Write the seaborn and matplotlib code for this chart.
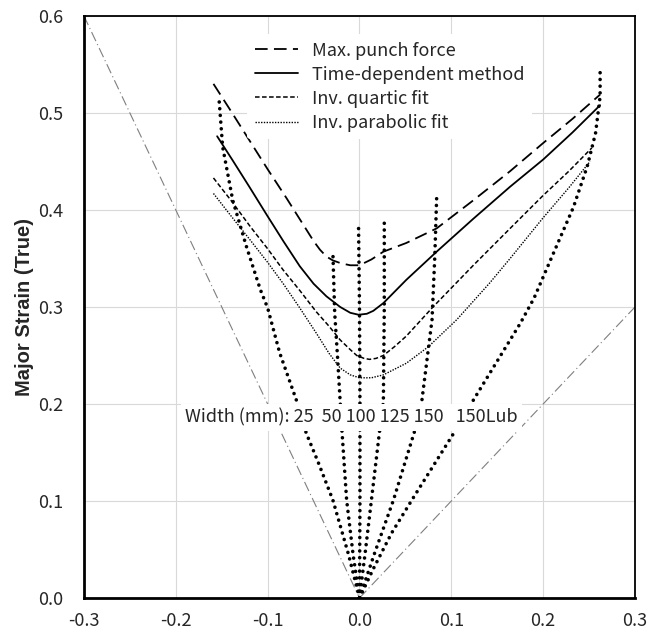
import numpy as np
import pandas as pd
import matplotlib
matplotlib.use("Agg")
import matplotlib.pyplot as plt
import seaborn as sns

# forming limit curves (minor strain, major strain)
punch_x = [-0.159, -0.140, -0.120, -0.100, -0.080, -0.060, -0.050, -0.043, -0.036, -0.029, -0.020, -0.010, 0.000, 0.013, 0.026, 0.051, 0.084, 0.124, 0.164, 0.200, 0.232, 0.262]
punch_y = [0.530, 0.502, 0.472, 0.442, 0.413, 0.383, 0.368, 0.359, 0.352, 0.348, 0.345, 0.343, 0.343, 0.349, 0.357, 0.366, 0.381, 0.410, 0.440, 0.469, 0.494, 0.519]

time_x = [-0.155, -0.138, -0.120, -0.101, -0.083, -0.065, -0.050, -0.036, -0.021, -0.010, -0.001, 0.008, 0.015, 0.026, 0.051, 0.084, 0.124, 0.164, 0.200, 0.232, 0.262]
time_y = [0.476, 0.451, 0.424, 0.395, 0.368, 0.342, 0.324, 0.311, 0.300, 0.294, 0.292, 0.293, 0.296, 0.304, 0.328, 0.357, 0.391, 0.424, 0.452, 0.480, 0.508]

quartic_x = [-0.159, -0.140, -0.119, -0.100, -0.083, -0.065, -0.047, -0.033, -0.021, -0.010, -0.003, 0.005, 0.011, 0.018, 0.026, 0.038, 0.051, 0.080, 0.124, 0.164, 0.200, 0.228, 0.253]
quartic_y = [0.433, 0.410, 0.383, 0.360, 0.338, 0.317, 0.295, 0.280, 0.266, 0.256, 0.250, 0.247, 0.246, 0.247, 0.250, 0.259, 0.270, 0.300, 0.343, 0.381, 0.415, 0.440, 0.464]

parab_x = [-0.159, -0.140, -0.119, -0.100, -0.083, -0.065, -0.047, -0.033, -0.021, -0.010, 0.000, 0.013, 0.026, 0.051, 0.075, 0.106, 0.142, 0.164, 0.200, 0.228, 0.251]
parab_y = [0.417, 0.394, 0.369, 0.346, 0.324, 0.299, 0.273, 0.252, 0.237, 0.230, 0.227, 0.227, 0.230, 0.242, 0.259, 0.287, 0.325, 0.350, 0.392, 0.423, 0.450]

# strain paths by specimen width
w25_x = [0.0, -0.012, -0.029, -0.045, -0.058, -0.068, -0.087, -0.100, -0.108, -0.123, -0.138, -0.149, -0.153]
w25_y = [0.0, 0.045, 0.101, 0.140, 0.170, 0.202, 0.253, 0.299, 0.318, 0.362, 0.410, 0.465, 0.515]

w50_x = [0.0, -0.007, -0.014, -0.019, -0.021, -0.024, -0.027, -0.029]
w50_y = [0.0, 0.045, 0.101, 0.171, 0.202, 0.250, 0.294, 0.357]

w100_x = [0.0, 0.0005, 0.0005, 0.0, -0.001]
w100_y = [0.0, 0.100, 0.200, 0.300, 0.381]

w125_x = [0.0, 0.006, 0.013, 0.022, 0.026, 0.027, 0.027]
w125_y = [0.0, 0.045, 0.101, 0.173, 0.202, 0.300, 0.390]

w150_x = [0.0, 0.016, 0.037, 0.061, 0.068, 0.079, 0.082, 0.084]
w150_y = [0.0, 0.045, 0.101, 0.175, 0.204, 0.287, 0.352, 0.412]

w150lub_x = [0.0, 0.015, 0.035, 0.059, 0.106, 0.124, 0.175, 0.190, 0.211, 0.233, 0.248, 0.257, 0.262, 0.262]
w150lub_y = [0.0, 0.030, 0.067, 0.104, 0.175, 0.204, 0.283, 0.309, 0.355, 0.403, 0.445, 0.479, 0.517, 0.546]

# reference lines: uniaxial and equi-biaxial
uni_x = [-0.3, 0.0]
uni_y = [0.6, 0.0]
biax_x = [0.0, 0.3]
biax_y = [0.0, 0.3]

flc_labels = ["Max. punch force", "Time-dependent method", "Inv. quartic fit", "Inv. parabolic fit"]
tick_vals = [-0.3, -0.2, -0.1, 0.0, 0.1, 0.2, 0.3]
ytick_vals = [0.0, 0.1, 0.2, 0.3, 0.4, 0.5, 0.6]

sns.set_style("white")
plt.rcParams["font.family"] = ["Noto Sans CJK KR", "DejaVu Sans"]

fig = plt.figure(figsize=(6.56, 6.34), dpi=100)
ax = fig.add_axes([0.128, 0.0568, 0.84, 0.918])

# reference lines
for xs, ys in [(uni_x, uni_y), (biax_x, biax_y)]:
    sns.lineplot(x=xs, y=ys, ax=ax, sort=False, estimator=None, color="#7f7f7f",
                 lw=0.8, linestyle=(0, (9, 3, 1, 3)))

# strain paths: round dotted
for xs, ys in [(w25_x, w25_y), (w50_x, w50_y), (w100_x, w100_y), (w125_x, w125_y),
               (w150_x, w150_y), (w150lub_x, w150lub_y)]:
    sns.lineplot(x=xs, y=ys, ax=ax, sort=False, estimator=None, color="black",
                 lw=2.6, linestyle=(0, (0.01, 1.85)), dash_capstyle="round")

styles = [(0, (7, 3.5)), "-", (0, (3, 1.6)), (0, (1, 1))]
widths = [1.3, 1.3, 1.1, 1.0]
for (xs, ys), lab, ls, lw in zip([(punch_x, punch_y), (time_x, time_y), (quartic_x, quartic_y), (parab_x, parab_y)],
                                 flc_labels, styles, widths):
    sns.lineplot(x=xs, y=ys, ax=ax, sort=False, estimator=None, color="black",
                 lw=lw, linestyle=ls, label=lab)

ax.set_xlim(-0.3, 0.3)
ax.set_ylim(0.0, 0.6)
ax.set_xticks(tick_vals)
ax.set_yticks(ytick_vals)
ax.set_xticklabels([f"{v:.1f}" for v in tick_vals])
ax.set_yticklabels([f"{v:.1f}" for v in ytick_vals])
ax.tick_params(direction="in", length=5, width=1.5, labelsize=13)
ax.tick_params(axis="y", pad=15)
ax.tick_params(axis="x", pad=10)
ax.grid(True, color="#d9d9d9", lw=0.8)
ax.set_axisbelow(True)
for side in ["left", "bottom"]:
    ax.spines[side].set_linewidth(2.0)
for side in ["top", "right"]:
    ax.spines[side].set_linewidth(1.3)
for sp in ax.spines.values():
    sp.set_color("black")

ax.set_xlabel("")
ax.set_ylabel("Major Strain (True)", fontsize=14.5, fontweight="bold",
              family=["Liberation Sans", "DejaVu Sans"], labelpad=3)

ax.text(-0.19, 0.186, "Width (mm): 25  50 100 125 150   150Lub", fontsize=13,
        va="center", ha="left", zorder=5,
        bbox=dict(facecolor="white", edgecolor="none", pad=3))

leg = ax.legend(loc="upper left", bbox_to_anchor=(0.280, 0.984), fontsize=13,
                frameon=True, handlelength=2.4, handletextpad=0.8, labelspacing=0.34,
                borderpad=0.4)
leg.get_frame().set_edgecolor("none")
leg.get_frame().set_facecolor("white")
leg.get_frame().set_alpha(1)

fig.savefig("out.png", dpi=100)
